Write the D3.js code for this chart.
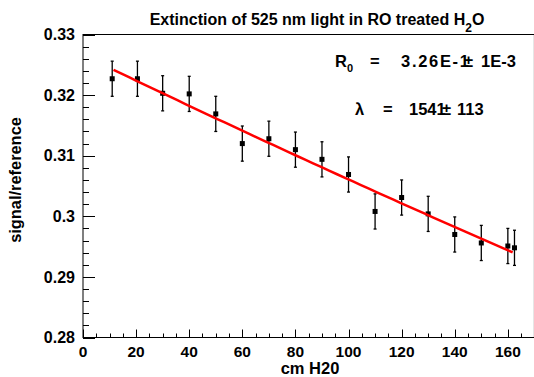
<!DOCTYPE html>
<html>
<head>
<meta charset="utf-8">
<script src="https://cdn.jsdelivr.net/npm/d3@7"></script>
<style>
  body { margin: 0; background: #fff; }
  text { font-family: "Liberation Sans", Arial, sans-serif; font-weight: bold; }
</style>
</head>
<body>
<div id="chart"></div>
<script>
// Data
var depth  = [11, 20.5, 30, 40, 50, 60, 70, 80, 90, 100, 110, 120, 130, 140, 150, 160, 162.5];
var ratio  = [0.3227, 0.3227, 0.3203, 0.3202, 0.3169, 0.3120, 0.3128, 0.3110, 0.3094,
              0.3069, 0.3008, 0.3031, 0.3004, 0.2970, 0.2956, 0.2951, 0.2948];
var ratioErr = [0.0029, 0.0029, 0.0029, 0.0029, 0.0029, 0.0029, 0.0029, 0.0029, 0.0029,
                0.0029, 0.0029, 0.0029, 0.0029, 0.0029, 0.0029, 0.0029, 0.0029];

// Fit result R(x) = R0 * exp(-x / lambda)
var fitR0 = 0.3266;
var fitLambda = 1541;
var fitRange = [11.5, 161.8];

var xTicks = [0, 20, 40, 60, 80, 100, 120, 140, 160];
var yTicks = [0.28, 0.29, 0.30, 0.31, 0.32, 0.33];
var yTickLabels = ["0.28", "0.29", "0.3", "0.31", "0.32", "0.33"];

var width = 534, height = 377;
var margin = {top: 34.5, right: -0.4, bottom: 39.5, left: 83};

var svg = d3.select('#chart')
  .append('svg')
    .attr('width', width)
    .attr('height', height);

var x = d3.scaleLinear()
  .domain([0, 170])
  .range([margin.left, width - margin.right]);

var y = d3.scaleLinear()
  .domain([0.28, 0.33])
  .range([height - margin.bottom, margin.top]);

// Frame
svg.append("rect")
  .attr("x", x(0))
  .attr("y", y(0.33))
  .attr("width", x(170) - x(0))
  .attr("height", y(0.28) - y(0.33))
  .attr("fill", "none")
  .attr("stroke", "black")
  .attr("stroke-width", 1);

// x axis ticks
var xMinor = d3.range(0, 170, 5);
svg.append("g").selectAll("line")
  .data(xMinor)
  .join("line")
    .attr("x1", d => Math.round(x(d)) + 0.5)
    .attr("x2", d => Math.round(x(d)) + 0.5)
    .attr("y1", y(0.28))
    .attr("y2", d => y(0.28) - (d % 20 === 0 ? 8 : 4))
    .attr("stroke", "black");

svg.append("g").selectAll("text")
  .data(xTicks)
  .join("text")
    .attr("x", d => x(d))
    .attr("y", 356.5)
    .attr("text-anchor", "middle")
    .style("font-size", "15.5px")
    .text(d => d);

// y axis ticks
var yMinor = d3.range(0, 26).map(i => 0.28 + i * 0.002);
svg.append("g").selectAll("line")
  .data(yMinor)
  .join("line")
    .attr("x1", x(0))
    .attr("x2", (d, i) => x(0) + (i % 5 === 0 ? 12 : 6))
    .attr("y1", d => Math.round(y(d)) + 0.5)
    .attr("y2", d => Math.round(y(d)) + 0.5)
    .attr("stroke", "black");

svg.append("g").selectAll("text")
  .data(yTicks)
  .join("text")
    .attr("x", 75)
    .attr("y", d => y(d) + 5.7)
    .attr("text-anchor", "end")
    .style("font-size", "16px")
    .text((d, i) => yTickLabels[i]);

// Axis titles
svg.append("text")
  .attr("x", 310)
  .attr("y", 373.5)
  .attr("text-anchor", "middle")
  .style("font-size", "16.5px")
  .text("cm H20");

svg.append("text")
  .attr("transform", "translate(21,180) rotate(-90)")
  .attr("text-anchor", "middle")
  .style("font-size", "16.4px")
  .text("signal/reference");

// Title
var title = svg.append("text")
  .attr("x", 317)
  .attr("y", 25)
  .attr("text-anchor", "middle")
  .style("font-size", "16px");
title.append("tspan").text("Extinction of 525 nm light in RO treated H");
title.append("tspan").attr("dy", 7).style("font-size", "12px").text("2");
title.append("tspan").attr("dy", -7).text("O");

// Fit curve
var fitX = d3.range(0, 51).map(i => fitRange[0] + (fitRange[1] - fitRange[0]) * i / 50);
var fitLine = d3.line()
  .x(d => x(d))
  .y(d => y(fitR0 * Math.exp(-d / fitLambda)));

// Error bars
var pts = depth.map((d, i) => ({x: d, y: ratio[i], e: ratioErr[i]}));
var bars = svg.append("g").attr("stroke", "black").attr("stroke-width", 1.3);
bars.selectAll("line.err")
  .data(pts)
  .join("line")
    .attr("class", "err")
    .attr("x1", d => x(d.x))
    .attr("x2", d => x(d.x))
    .attr("y1", d => y(d.y - d.e))
    .attr("y2", d => y(d.y + d.e));
bars.selectAll("line.capTop")
  .data(pts)
  .join("line")
    .attr("class", "capTop")
    .attr("x1", d => x(d.x) - 1.5)
    .attr("x2", d => x(d.x) + 1.5)
    .attr("y1", d => y(d.y + d.e))
    .attr("y2", d => y(d.y + d.e));
bars.selectAll("line.capBot")
  .data(pts)
  .join("line")
    .attr("class", "capBot")
    .attr("x1", d => x(d.x) - 1.5)
    .attr("x2", d => x(d.x) + 1.5)
    .attr("y1", d => y(d.y - d.e))
    .attr("y2", d => y(d.y - d.e));

// Markers
svg.append("g").selectAll("rect")
  .data(pts)
  .join("rect")
    .attr("x", d => x(d.x) - 2.5)
    .attr("y", d => y(d.y) - 2.5)
    .attr("width", 5)
    .attr("height", 5)
    .attr("fill", "black");

svg.append("path")
  .datum(fitX)
  .attr("fill", "none")
  .attr("stroke", "#ff0000")
  .attr("stroke-width", 2.5)
  .attr("d", fitLine);

// Fit parameter annotations (the +- sign overlaps the last digit, as in the original)
var r0 = svg.append("text").attr("x", 335).attr("y", 67).style("font-size", "16.5px");
r0.append("tspan").text("R");
r0.append("tspan").attr("dy", 5).style("font-size", "11px").text("0");
r0.append("tspan").attr("dy", -5).attr("x", 370).text("=");
r0.append("tspan").attr("x", 401).attr("textLength", 68).attr("lengthAdjust", "spacing").text("3.26E-1");
r0.append("tspan").attr("x", 464).text("\u00b1");
r0.append("tspan").attr("x", 481).text("1E-3");

var lam = svg.append("text").attr("x", 355).attr("y", 115).style("font-size", "16.5px");
lam.append("tspan").text("\u03bb");
lam.append("tspan").attr("x", 383).text("=");
lam.append("tspan").attr("x", 409).text("1541");
lam.append("tspan").attr("x", 442).text("\u00b1");
lam.append("tspan").attr("x", 457).text("113");
</script>
</body>
</html>
